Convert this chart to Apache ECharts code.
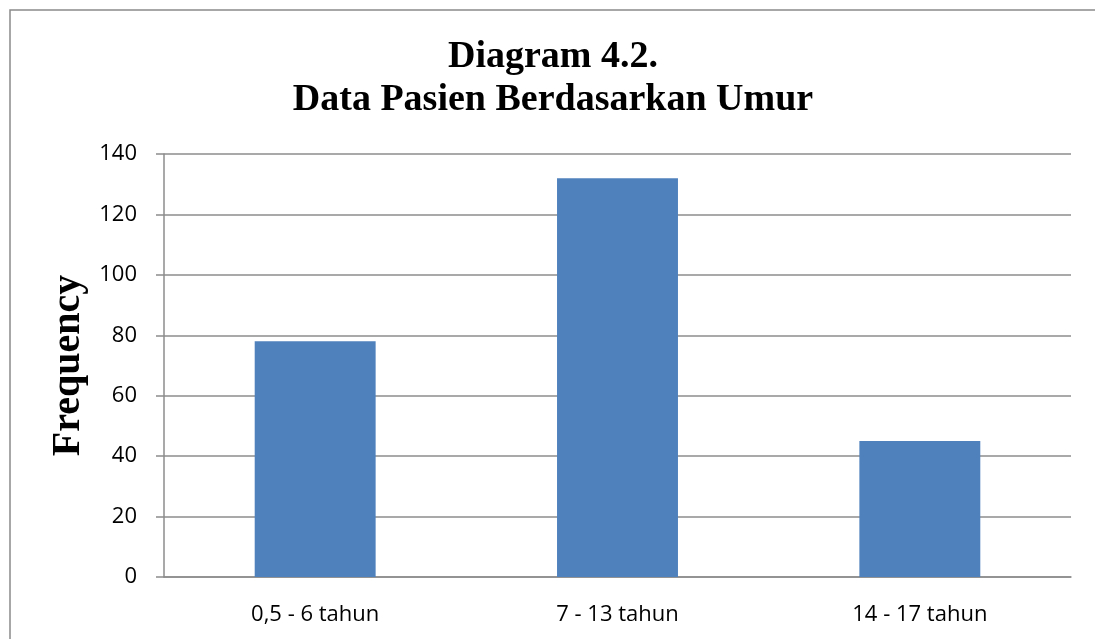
<!DOCTYPE html>
<html>
<head>
<meta charset="utf-8">
<title>Diagram 4.2</title>
<script src="https://cdn.jsdelivr.net/npm/echarts@6/dist/echarts.min.js"></script>
<style>
  html, body { margin: 0; padding: 0; background: #ffffff; overflow: hidden; }
  #chart { width: 1095px; height: 639px; }
</style>
</head>
<body>
<div id="chart"></div>
<script>
  // ── Data ───────────────────────────────────────────────────────────────────
  var categories = ['0,5 - 6 tahun', '7 - 13 tahun', '14 - 17 tahun'];
  var frequency  = [78, 132, 45];
  var titleLines = ['Diagram 4.2.', 'Data Pasien Berdasarkan Umur'];
  var yAxisName  = 'Frequency';

  var gridColor  = '#8c8c8c';
  var labelFont  = '"Open Sans", "Noto Sans", sans-serif';
  var serifFont  = '"Liberation Serif", "DejaVu Serif", serif';

  var chart = echarts.init(document.getElementById('chart'), null, { renderer: 'canvas' });

  chart.setOption({
    backgroundColor: '#ffffff',
    animation: false,
    // outer chart-area frame: only top and left edges fall inside the picture
    graphic: [{
      type: 'polyline',
      z: -1,
      shape: { points: [[10, 700], [10, 10], [1200, 10]] },
      style: { fill: null, stroke: '#8a8a8a', lineWidth: 1.5 }
    }],
    title: {
      text: titleLines.join('\n'),
      left: 548,
      textAlign: 'center',
      top: 31,
      textStyle: {
        fontFamily: serifFont,
        fontWeight: 'bold',
        fontSize: 38,
        lineHeight: 43,
        color: '#000000'
      }
    },
    grid: { left: 164, right: 24, top: 154, bottom: 62, containLabel: false },
    xAxis: {
      type: 'category',
      data: categories,
      axisLine: { show: true, lineStyle: { color: gridColor, width: 1.5 } },
      axisTick: { show: false },
      axisLabel: {
        margin: 27,
        color: '#000000',
        fontFamily: labelFont,
        fontSize: 22
      }
    },
    yAxis: {
      type: 'value',
      min: 0,
      max: 140,
      interval: 20,
      name: yAxisName,
      nameLocation: 'middle',
      nameGap: 72,
      nameTextStyle: {
        fontFamily: serifFont,
        fontWeight: 'bold',
        fontSize: 40,
        color: '#000000'
      },
      axisLine: { show: true, lineStyle: { color: gridColor, width: 1.5 } },
      axisTick: { show: true, length: 8, lineStyle: { color: gridColor, width: 1.5 } },
      axisLabel: {
        margin: 27,
        color: '#000000',
        fontFamily: labelFont,
        fontSize: 22
      },
      splitLine: { show: true, lineStyle: { color: gridColor, width: 1.5 } }
    },
    series: [{
      type: 'bar',
      data: frequency,
      barWidth: '40%',
      itemStyle: { color: '#4f81bd' }
    }]
  });
</script>
</body>
</html>
